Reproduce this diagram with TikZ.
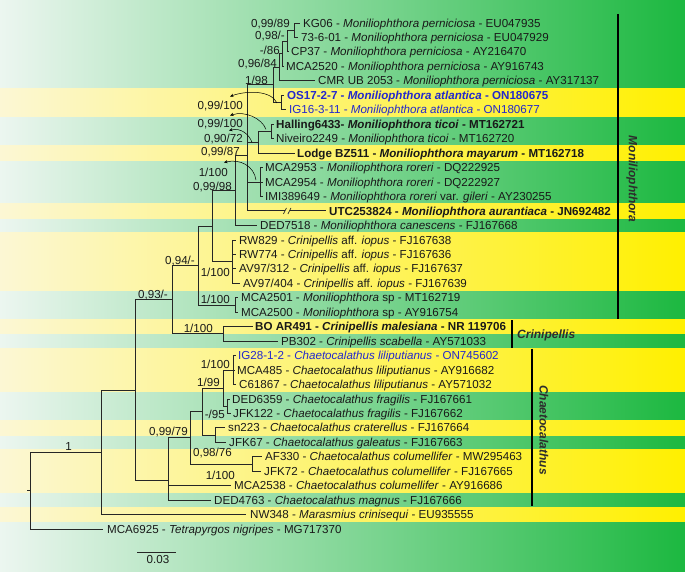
\documentclass[tikz,border=0pt]{standalone}
\usepackage{fontspec}
\setmainfont{Liberation Sans}
\usetikzlibrary{arrows.meta}
\definecolor{gL}{RGB}{236,246,240}
\definecolor{gM}{RGB}{105,205,125}
\definecolor{gR}{RGB}{28,184,64}
\definecolor{yL}{RGB}{252,247,212}
\definecolor{yM}{RGB}{251,239,100}
\definecolor{yR}{RGB}{255,240,0}
\definecolor{txt}{RGB}{25,25,25}
\definecolor{blu}{RGB}{35,40,205}
\definecolor{grpc}{RGB}{45,45,45}
\begin{document}
\begin{tikzpicture}[x=1pt,y=-1pt,
  leaf/.style={anchor=base west, inner sep=0pt, font=\fontsize{11.6}{13}\selectfont, text=txt},
  leafb/.style={leaf, font=\fontsize{11.6}{13}\selectfont\bfseries},
  suplab/.style={anchor=base east, inner sep=0pt, font=\fontsize{11.6}{13}\selectfont, text=txt},
  branch/.style={draw=black!85, line width=0.8pt},
  yband/.style={left color=yL, middle color=yM, right color=yR},
  suparr/.style={draw=black, line width=0.5pt, -{Stealth[length=3.6pt,width=3.2pt]}},
  grpbar/.style={line width=2.4pt, black},
  grplab/.style={font=\fontsize{12}{14}\selectfont\bfseries\itshape, text=grpc, inner sep=0pt}]
\useasboundingbox (0,0) rectangle (685,572);
% background
\fill[left color=gL, middle color=gM, right color=gR] (0,0) rectangle (685,572);
\fill[yband] (0,88.1) rectangle (685,117.0);
\fill[yband] (0,145.9) rectangle (685,160.3);
\fill[yband] (0,203.7) rectangle (685,218.2);
\fill[yband] (0,232.6) rectangle (685,290.5);
\fill[yband] (0,319.4) rectangle (685,333.8);
\fill[yband] (0,348.3) rectangle (685,391.7);
\fill[yband] (0,420.6) rectangle (685,435.0);
\fill[yband] (0,449.5) rectangle (685,492.9);
\fill[yband] (0,507.3) rectangle (685,521.8);
% tip labels
\node[leaf] (t1) at (303,27.1) {KG06 - \textit{Moniliophthora perniciosa} - EU047935};
\node[leaf] (t2) at (301,41.6) {73-6-01 - \textit{Moniliophthora perniciosa} - EU047929};
\node[leaf] (t3) at (291,56.0) {CP37 - \textit{Moniliophthora perniciosa} - AY216470};
\node[leaf] (t4) at (286,70.5) {MCA2520 - \textit{Moniliophthora perniciosa} - AY916743};
\node[leaf] (t5) at (318,84.9) {CMR UB 2053 - \textit{Moniliophthora perniciosa} - AY317137};
\node[leafb,text=blu] (t6) at (287,99.4) {OS17-2-7 - \textit{Moniliophthora atlantica} - ON180675};
\node[leaf,text=blu] (t7) at (289,113.8) {IG16-3-11 - \textit{Moniliophthora atlantica} - ON180677};
\node[leafb] (t8) at (276,128.3) {Halling6433- \textit{Moniliophthora ticoi} - MT162721};
\node[leaf] (t9) at (276,142.8) {Niveiro2249 - \textit{Moniliophthora ticoi} - MT162720};
\node[leafb] (t10) at (297,157.2) {Lodge BZ511 - \textit{Moniliophthora mayarum} - MT162718};
\node[leaf] (t11) at (265,171.7) {MCA2953 - \textit{Moniliophthora roreri} - DQ222925};
\node[leaf] (t12) at (265,186.1) {MCA2954 - \textit{Moniliophthora roreri} - DQ222927};
\node[leaf] (t13) at (265,200.6) {IMI389649 - \textit{Moniliophthora roreri} var. \textit{gileri} - AY230255};
\node[leafb] (t14) at (329,215.0) {UTC253824 - \textit{Moniliophthora aurantiaca} - JN692482};
\node[leaf] (t15) at (260,229.5) {DED7518 - \textit{Moniliophthora canescens} - FJ167668};
\node[leaf] (t16) at (239,244.0) {RW829 - \textit{Crinipellis} aff. \textit{iopus} - FJ167638};
\node[leaf] (t17) at (239,258.4) {RW774 - \textit{Crinipellis} aff. \textit{iopus} - FJ167636};
\node[leaf] (t18) at (239,272.9) {AV97/312 - \textit{Crinipellis} aff. \textit{iopus} - FJ167637};
\node[leaf] (t19) at (243,287.3) {AV97/404 - \textit{Crinipellis} aff. \textit{iopus} - FJ167639};
\node[leaf] (t20) at (241,301.8) {MCA2501 - \textit{Moniliophthora} sp - MT162719};
\node[leaf] (t21) at (241,316.2) {MCA2500 - \textit{Moniliophthora} sp - AY916754};
\node[leafb] (t22) at (255,330.7) {BO AR491 - \textit{Crinipellis malesiana} - NR 119706};
\node[leaf] (t23) at (281,345.2) {PB302 - \textit{Crinipellis scabella} - AY571033};
\node[leaf,text=blu] (t24) at (238,359.6) {IG28-1-2 - \textit{Chaetocalathus liliputianus} - ON745602};
\node[leaf] (t25) at (237,374.1) {MCA485 - \textit{Chaetocalathus liliputianus} - AY916682};
\node[leaf] (t26) at (239,388.5) {C61867 - \textit{Chaetocalathus liliputianus} - AY571032};
\node[leaf] (t27) at (232,403.0) {DED6359 - \textit{Chaetocalathus fragilis} - FJ167661};
\node[leaf] (t28) at (233,417.4) {JFK122 - \textit{Chaetocalathus fragilis} - FJ167662};
\node[leaf] (t29) at (228,431.9) {sn223 - \textit{Chaetocalathus craterellus} - FJ167664};
\node[leaf] (t30) at (229,446.4) {JFK67 - \textit{Chaetocalathus galeatus} - FJ167663};
\node[leaf] (t31) at (265,460.8) {AF330 - \textit{Chaetocalathus columellifer} - MW295463};
\node[leaf] (t32) at (264,475.3) {JFK72 - \textit{Chaetocalathus columellifer} - FJ167665};
\node[leaf] (t33) at (234,489.7) {MCA2538 - \textit{Chaetocalathus columellifer} - AY916686};
\node[leaf] (t34) at (214,504.2) {DED4763 - \textit{Chaetocalathus magnus} - FJ167666};
\node[leaf] (t35) at (250,518.6) {NW348 - \textit{Marasmius crinisequi} - EU935555};
\node[leaf] (t36) at (107,533.1) {MCA6925 - \textit{Tetrapyrgos nigripes} - MG717370};
% branch ends
\coordinate (e1) at (300,23.0);
\coordinate (e2) at (298,37.5);
\coordinate (e3) at (289,51.9);
\coordinate (e4) at (284,66.4);
\coordinate (e5) at (315,80.8);
\coordinate (e6) at (284,95.3);
\coordinate (e7) at (286,109.7);
\coordinate (e8) at (274,124.2);
\coordinate (e9) at (274,138.7);
\coordinate (e10) at (295,153.1);
\coordinate (e11) at (263,167.6);
\coordinate (e12) at (263,182.0);
\coordinate (e13) at (263,196.5);
\coordinate (e14a) at (285,210.9);
\coordinate (e14b) at (289.5,210.9);
\coordinate (e14) at (326,210.9);
\coordinate (e15) at (257,225.4);
\coordinate (e16) at (236,239.9);
\coordinate (e17) at (236,254.3);
\coordinate (e18) at (236,268.8);
\coordinate (e19) at (240,283.2);
\coordinate (e20) at (238,297.7);
\coordinate (e21) at (238,312.1);
\coordinate (e22) at (253,326.6);
\coordinate (e23) at (278,341.1);
\coordinate (e24) at (236,355.5);
\coordinate (e25) at (235,370.0);
\coordinate (e26) at (236,384.4);
\coordinate (e27) at (230,398.9);
\coordinate (e28) at (231,413.3);
\coordinate (e29) at (225,427.8);
\coordinate (e30) at (226,442.3);
\coordinate (e31) at (262,456.7);
\coordinate (e32) at (261,471.2);
\coordinate (e33) at (231,485.6);
\coordinate (e34) at (211,500.1);
\coordinate (e35) at (246,514.5);
\coordinate (e36) at (103,529.0);
% internal nodes
\coordinate (n1) at (294,30.2);
\coordinate (n2) at (287,41.1);
\coordinate (n3) at (282,53.7);
\coordinate (n4) at (279,67.3);
\coordinate (atl) at (281,102.5);
\coordinate (n5) at (273,84.9);
\coordinate (tic) at (271,131.4);
\coordinate (tm) at (258,142.3);
\coordinate (ror) at (260,182.0);
\coordinate (nq) at (247,113.6);
\coordinate (nr) at (247,196.5);
\coordinate (ns) at (247,155.0);
\coordinate (nt) at (235,190.2);
\coordinate (iop) at (232,261.5);
\coordinate (nu) at (212,225.9);
\coordinate (nsp) at (235,304.9);
\coordinate (nv) at (198,265.4);
\coordinate (cri) at (223,333.8);
\coordinate (nw) at (172,299.6);
\coordinate (lil) at (233,370.0);
\coordinate (frg) at (227,406.1);
\coordinate (nx) at (223,388.0);
\coordinate (nsn) at (215,435.0);
\coordinate (nx2) at (202,411.5);
\coordinate (col) at (252,463.9);
\coordinate (nz) at (190,437.7);
\coordinate (nzm) at (168,461.6);
\coordinate (ncc) at (168,480.8);
\coordinate (core) at (135,390.2);
\coordinate (ing) at (101,452.4);
\coordinate (root) at (30,490.7);
\coordinate (r0) at (27,490.7);
% branches
\draw[branch] (n1)|-(e1) (n1)|-(e2) (n2)|-(n1) (n2)|-(e3) (n3)|-(n2) (n3)|-(e4)
  (n4)|-(n3) (n4)|-(e5) (atl)|-(e6) (atl)|-(e7) (n5)|-(n4) (n5)|-(atl)
  (tic)|-(e8) (tic)|-(e9) (tm)|-(tic) (tm)|-(e10)
  (ror)|-(e11) (ror)|-(e12) (ror)|-(e13)
  (nq)|-(n5) (nq)|-(tm) (nr)|-(ror) (nr)|-(e14a) (e14b)--(e14)
  (ns)|-(nq) (ns)|-(nr) (nt)|-(ns) (nt)|-(e15)
  (iop)|-(e16) (iop)|-(e17) (iop)|-(e18) (iop)|-(e19)
  (nu)|-(nt) (nu)|-(iop) (nsp)|-(e20) (nsp)|-(e21) (nv)|-(nu) (nv)|-(nsp)
  (cri)|-(e22) (cri)|-(e23) (nw)|-(nv) (nw)|-(cri)
  (lil)|-(e24) (lil)|-(e25) (lil)|-(e26) (frg)|-(e27) (frg)|-(e28)
  (nx)|-(lil) (nx)|-(frg) (nsn)|-(e29) (nsn)|-(e30) (nx2)|-(nx) (nx2)|-(nsn)
  (col)|-(e31) (col)|-(e32) (nz)|-(nx2) (nz)|-(col)
  (nzm)|-(nz) (nzm)|-(e33) (ncc)|-(nzm) (ncc)|-(e34)
  (core)|-(nw) (core)|-(ncc) (ing)|-(core) (ing)|-(e35)
  (root)|-(ing) (root)|-(e36) (r0)--(root);
% break marks on UTC branch
\draw[branch, line width=0.6pt] ([shift={(-1.5,3)}]e14a) -- ([shift={(1.5,-3)}]e14a)
  ([shift={(-1.5,3)}]e14b) -- ([shift={(1.5,-3)}]e14b);
% support values
\node[suplab] (s1) at (290,27.1) {0,99/89};
\node[suplab] (s2) at (285,39.1) {0,98/-};
\node[suplab] (s3) at (280,54.1) {-/86};
\node[suplab] (s4) at (277,67.1) {0,96/84};
\node[suplab] (s5) at (268,84.1) {1/98};
\node[suplab] (s6) at (243,109.1) {0,99/100};
\node[suplab] (s7) at (243,127.1) {0,99/100};
\node[suplab] (s8) at (243,142.1) {0,90/72};
\node[suplab] (s9) at (240,155.1) {0,99/87};
\node[suplab] (s10) at (228,176.1) {1/100};
\node[suplab] (s11) at (232,190.1) {0,99/98};
\node[suplab] (s12) at (195,264.1) {0,94/-};
\node[suplab] (s13) at (230,276.1) {1/100};
\node[suplab] (s14) at (230,303.1) {1/100};
\node[suplab] (s15) at (168,298.1) {0,93/-};
\node[suplab] (s16) at (213,332.1) {1/100};
\node[suplab] (s17) at (230,368.1) {1/100};
\node[suplab] (s18) at (220,386.1) {1/99};
\node[suplab] (s19) at (225,418.1) {-/95};
\node[suplab] (s20) at (188,435.1) {0,99/79};
\node[suplab] (s21) at (232,456.1) {0,98/76};
\node[suplab] (s22) at (235,479.1) {1/100};
\node[suplab] (s23) at (72,450.1) {1};
% pointer arrows from nodes to their support values
\draw[suparr] ([shift={(-4,0.5)}]atl) .. controls +(-6,-13) and +(16,-6) .. ([shift={(-13,-4)}]s6.north east);
\draw[suparr] ([shift={(-5,-2)}]tic) .. controls +(-4,-11) and +(15,-5) .. ([shift={(-13,-3)}]s7.north east);
\draw[suparr] ([shift={(-6,0)}]tm) .. controls +(-3,-8) and +(12,-3) .. ([shift={(-14,-3)}]s8.north east);
\draw[suparr] ([shift={(-4,-2)}]ror) .. controls +(-2,-14) and +(16,-4) .. ([shift={(-4,-5)}]s10.north east);
% group bars and labels
\draw[grpbar] (618,14) coordinate (m1) -- (618,319) coordinate (m2);
\node[grplab, rotate=-90] (gmon) at (632,179) {Moniliophthora};
\draw[grpbar] (512,320) coordinate (c1) -- (512,347.5) coordinate (c2);
\node[grplab, anchor=west] (gcri) at (517,335) {Crinipellis};
\draw[grpbar] (532,348.5) coordinate (h1) -- (532,506) coordinate (h2);
\node[grplab, rotate=-90] (gcha) at (544,430) {Chaetocalathus};
% scale bar
\coordinate (sb1) at (137,552);
\coordinate (sb2) at (176,552);
\draw[branch] (sb1) -- (sb2);
\node[suplab, anchor=base] (sbl) at (158,563.5) {0.03};
\end{tikzpicture}
\end{document}
